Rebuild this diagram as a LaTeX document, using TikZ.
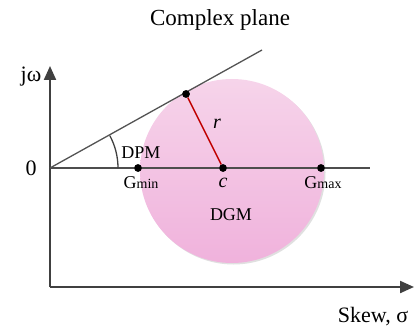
\documentclass[tikz,border=0pt]{standalone}
\usepackage{fontspec}
\setmainfont{Liberation Serif}
\usetikzlibrary{arrows.meta}
\definecolor{axisgray}{HTML}{404040}
\definecolor{linegray}{HTML}{4D4D4D}
\definecolor{pinktop}{HTML}{F6D4EA}
\definecolor{pinkbot}{HTML}{F0B2DC}
\definecolor{radred}{HTML}{C00000}
\tikzset{
  axisline/.style={draw=axisgray, line width=2.2pt, -{Triangle[length=14pt,width=12pt]}},
  dotpt/.style={circle, fill=black, inner sep=0pt, minimum size=7.5pt},
  lbl/.style={inner sep=0pt, font=\fontsize{18}{20}\selectfont},
  biglbl/.style={inner sep=0pt, font=\fontsize{22}{26}\selectfont},
}
\begin{document}
\begin{tikzpicture}[x=1pt,y=1pt]
\useasboundingbox (0,0) rectangle (414,-331);
% circle
\fill[black!12] (233.5,-172.5) circle[radius=92];
\shade[top color=pinktop, bottom color=pinkbot] (232,-171) circle[radius=92];
% coordinates
\coordinate (O) at (50,-168);
\coordinate (top) at (50,-66);
\coordinate (corner) at (50,-287);
\coordinate (right) at (414,-287);
\coordinate (Lend) at (370,-168);
\coordinate (Tend) at (262,-50);
\node[dotpt] (T) at (186,-94) {};
\node[dotpt] (C) at (223,-168) {};
\node[dotpt] (Gmin) at (138,-168) {};
\node[dotpt] (Gmax) at (321,-168) {};
% axes
\draw[axisline] (corner) -- (top);
\draw[axisline] (corner) -- (right);
% real line and tangent
\draw[draw=linegray, line width=1.5pt] (O) -- (Lend);
\draw[draw=axisgray!90, line width=1.3pt] (O) -- (Tend);
\draw[draw=axisgray, line width=1.3pt] ([xshift=68pt]O) arc[start angle=0, end angle=28.5, radius=68pt];
\draw[draw=radred, line width=1.5pt] (T) -- (C);
\node[dotpt] at (T) {};
\node[dotpt] at (C) {};
\node[dotpt] at (Gmin) {};
\node[dotpt] at (Gmax) {};
% labels
\node[inner sep=0pt, font=\fontsize{23}{27}\selectfont] (title) at (220,-20) {Complex plane};
\node[biglbl] (jw) at (31,-77) {jω};
\node[biglbl] (zero) at (31,-168) {0};
\node[biglbl] (skew) at (373,-317) {Skew, σ};
\node[lbl] (dpm) at (141,-153) {DPM};
\node[lbl] (dgm) at (231,-215) {DGM};
\node[inner sep=0pt, font=\fontsize{20}{22}\selectfont\itshape] (rl) at (217,-124) {r};
\node[inner sep=0pt, anchor=base, font=\fontsize{20}{22}\selectfont\itshape] (cl) at (223,-187) {c};
\node[inner sep=0pt, anchor=base] (gminl) at (141,-188) {{\fontsize{18}{20}\selectfont G}{\fontsize{14}{16}\selectfont min}};
\node[inner sep=0pt, anchor=base] (gmaxl) at (323,-188) {{\fontsize{18}{20}\selectfont G}{\fontsize{14}{16}\selectfont max}};
\end{tikzpicture}
\end{document}
